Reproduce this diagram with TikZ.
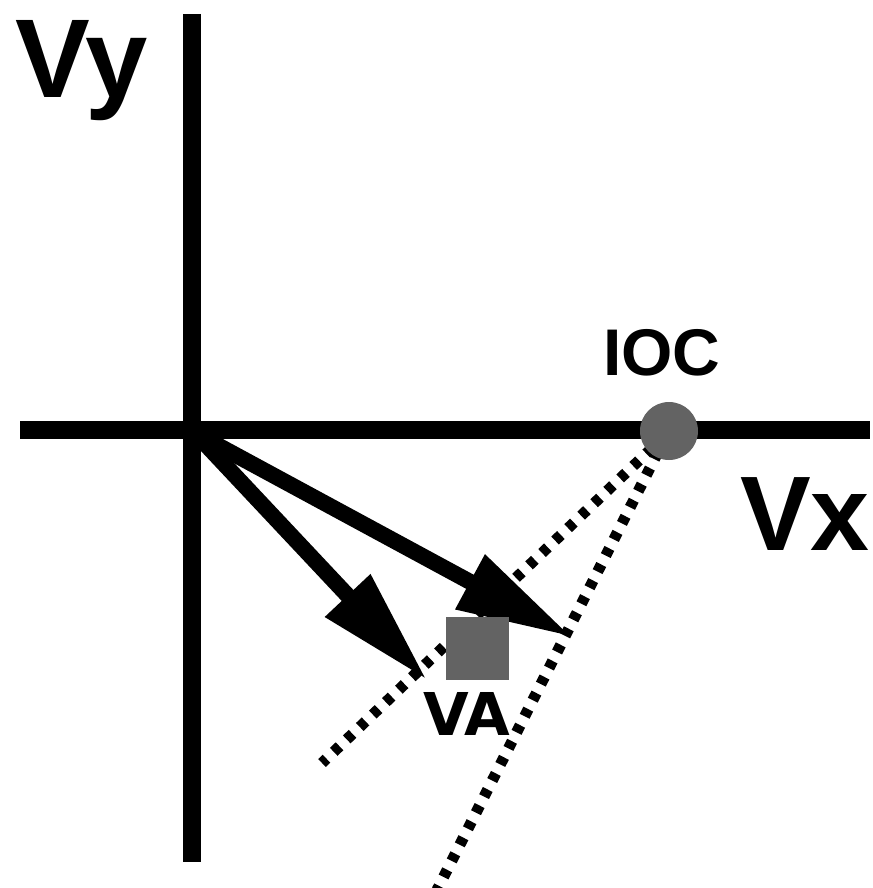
\documentclass[tikz,border=0pt]{standalone}
\usepackage{fontspec}
\setmainfont{Liberation Sans}
\newfontfamily\djv{DejaVu Sans}
\usetikzlibrary{arrows.meta}
\definecolor{markgray}{HTML}{636363}
\tikzset{
  axis/.style={line width=18pt, line cap=butt},
  vec/.style={line width=16pt, -{Triangle[length=116pt,width=58pt]}},
  dotline/.style={line width=11pt, dash pattern=on 8pt off 10pt},
  lbl/.style={anchor=base west, inner sep=0pt, font=\bfseries},
}
\begin{document}
\begin{tikzpicture}[x=1pt,y=-1pt]
\useasboundingbox (0,0) rectangle (872,888);
% coordinates
\coordinate (xl) at (20,430);
\coordinate (xr) at (870,430);
\coordinate (yt) at (192,14);
\coordinate (yb) at (192,862);
\coordinate (o) at (195,433);
\coordinate (t1) at (427,680);
\coordinate (t2) at (572,637);
\coordinate (sa) at (652,448);
\coordinate (ea) at (322,763);
\coordinate (sb) at (658,452);
\coordinate (eb) at (437,890);
% axes
\draw[axis] (xl) -- (xr);
\draw[axis] (yt) -- (yb);
% constraint lines
\draw[dotline] (sa) -- (ea);
\draw[dotline] (sb) -- (eb);
% vectors
\draw[vec] (o) -- (t1);
\draw[vec] (o) -- (t2);
% markers
\node[fill=markgray, draw=none, minimum size=63pt, inner sep=0pt] (va) at (477.5,648.5) {};
\node[circle, fill=markgray, draw=none, minimum size=58pt, inner sep=0pt] (ioc) at (669,431) {};
% labels
\node[lbl, font=\bfseries\fontsize{112}{112}\selectfont] (vy) at (15,98) {Vy};
\node[lbl, font=\bfseries\fontsize{106}{106}\selectfont] (vx) at (740,550) {Vx};
\node[lbl, font=\bfseries\fontsize{66}{66}\selectfont] (ioclbl) at (603,375) {IOC};
\node[lbl, font=\djv\bfseries\fontsize{59}{59}\selectfont] (valbl) at (423,735) {VA};
\end{tikzpicture}
\end{document}
